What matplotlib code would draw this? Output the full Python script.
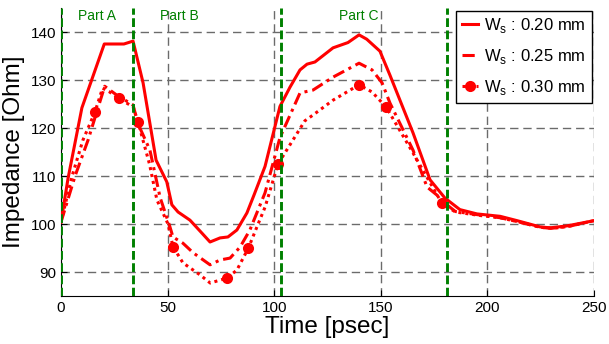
import numpy as np
import matplotlib.pyplot as plt

plt.rcParams['font.family'] = ['Liberation Sans', 'DejaVu Sans']

# --- data ---
t_020 = [0, 3.3, 9.8, 20.3, 29.5, 33.8, 38.5, 44.6, 49.6, 52, 54.9, 60.5, 66.1,
         69.9, 74.6, 78.3, 82.5, 87.2, 90.5, 95.7, 102.7, 107.4, 112.1, 115.4,
         119.1, 127.6, 134.6, 139.8, 143.4, 149.6, 154.3, 165.1, 173.1, 180.1,
         187.1, 195.1, 206, 213.9, 224.7, 229.4, 237.3, 250]
z_020 = [100.4, 109.5, 124.2, 137.5, 137.5, 138.1, 129.4, 113.3, 108.8, 104,
         102.5, 100.8, 98.1, 96.25, 97.1, 97.3, 98.75, 102.3, 106, 112, 124.5,
         128.5, 132.1, 133.3, 133.75, 136.7, 137.8, 139.4, 138.5, 136, 131,
         119, 109.2, 105.4, 103, 102.1, 101.6, 100.7, 99.4, 99.2, 99.6, 100.7]

t_025 = [0, 6.6, 12.7, 20.5, 26.3, 33.8, 36, 41.7, 46.5, 51.1, 52.5, 57.2, 62,
         69.9, 74.6, 79.3, 84, 88.6, 92.4, 95.7, 102.7, 112.1, 118.2, 127.6,
         139.8, 145.9, 150.6, 154.3, 165.1, 171.7, 176.4, 181, 185, 196, 206,
         214, 225, 230, 238, 250]
z_025 = [100.4, 110, 117.5, 128.7, 126.8, 124.8, 121, 115.4, 105.5, 99.4, 97.3,
         96, 94, 91.5, 92.5, 92.9, 95.2, 98.75, 102.9, 106.5, 118, 127.3, 127.9,
         130.6, 133.5, 132.1, 129.4, 125.2, 115.4, 107.7, 106, 104, 102.6,
         101.9, 101.3, 100.5, 99.3, 99.1, 99.5, 100.7]

t_030 = [0, 5.2, 10.3, 15.9, 19.5, 22.5, 27.0, 33.8, 36.1, 41.5, 45, 50.2, 52.5,
         57.2, 65.2, 70, 77.9, 82.5, 87.9, 91.9, 95.7, 101.8, 107.4, 114.4,
         118.2, 127.6, 139.8, 145.9, 152.6, 165.1, 178.7, 185, 196, 206, 214,
         225, 231, 238, 250]
z_030 = [100.4, 110, 117.5, 123.3, 128.3, 127.6, 126.2, 124.4, 121.3, 112.5,
         105, 100, 95.3, 91.9, 89.4, 87.7, 88.75, 90.4, 95, 99.4, 103.5, 112.5,
         116.5, 121.5, 122.7, 125.8, 129, 127.5, 124.3, 114.8, 104.3, 102.5,
         101.8, 101.3, 100.5, 99.3, 99.1, 99.5, 100.7]
marker_t_030 = [15.9, 27.0, 36.1, 52.5, 77.9, 87.9, 101.8, 139.8, 152.6, 178.7]

part_bounds = [0, 34, 103, 181]
part_names = ["Part A", "Part B", "Part C"]
part_label_t = [17, 55.5, 139.5]

# --- plot ---
fig = plt.figure(figsize=(6.09, 3.44), dpi=100)
ax = fig.add_axes([61 / 609, 1 - 296 / 344, 533 / 609, 288 / 344])

red = (1, 0, 0)
ax.plot(t_020, z_020, color=red, lw=2.2, ls='-',
        label=r'W$_\mathregular{s}$ : 0.20 mm', zorder=4)
ax.plot(t_025, z_025, color=red, lw=2.2, ls=(0, (4, 1.6, 1, 1.6)),
        label=r'W$_\mathregular{s}$ : 0.25 mm', zorder=4)
mk = [t_030.index(v) for v in marker_t_030]
ax.plot(t_030, z_030, color=red, lw=2.2, ls=(0, (1, 1.3)), marker='o', ms=6.5,
        mfc=red, mew=1.5, markevery=mk,
        label=r'W$_\mathregular{s}$ : 0.30 mm', zorder=4)

for b in part_bounds:
    ax.axvline(b, color=(0, 0.5, 0), lw=2.1, ls=(0, (3, 1.2)), zorder=5)
for name, x in zip(part_names, part_label_t):
    ax.text(x, 143.3, name, color=(0, 0.5, 0), fontsize=10,
            ha='center', va='center')

ax.set_xlim(0, 250)
ax.set_ylim(85, 145)
ax.set_xticks(np.arange(0, 251, 50))
ax.set_yticks(np.arange(90, 141, 10))
ax.grid(True, color=(0.42, 0.42, 0.42), lw=1.0, ls=(0, (6, 3.5)))
ax.set_axisbelow(True)
ax.tick_params(direction='in', length=4, labelsize=11)
ax.spines['top'].set_visible(False)
ax.spines['right'].set_visible(False)

ax.set_xlabel("Time [psec]", fontsize=17.5, labelpad=1)
ax.set_ylabel("Impedance [Ohm]", fontsize=17.5, labelpad=4)

leg = ax.legend(loc='upper right', bbox_to_anchor=(1.0, 1.0), fontsize=12,
                handlelength=1.0, handletextpad=0.35, borderpad=0.35,
                labelspacing=0.7, borderaxespad=0.15, fancybox=False,
                framealpha=1, edgecolor='black')
leg.get_frame().set_linewidth(1.0)
leg.set_zorder(10)

fig.savefig("out.png", dpi=100)
